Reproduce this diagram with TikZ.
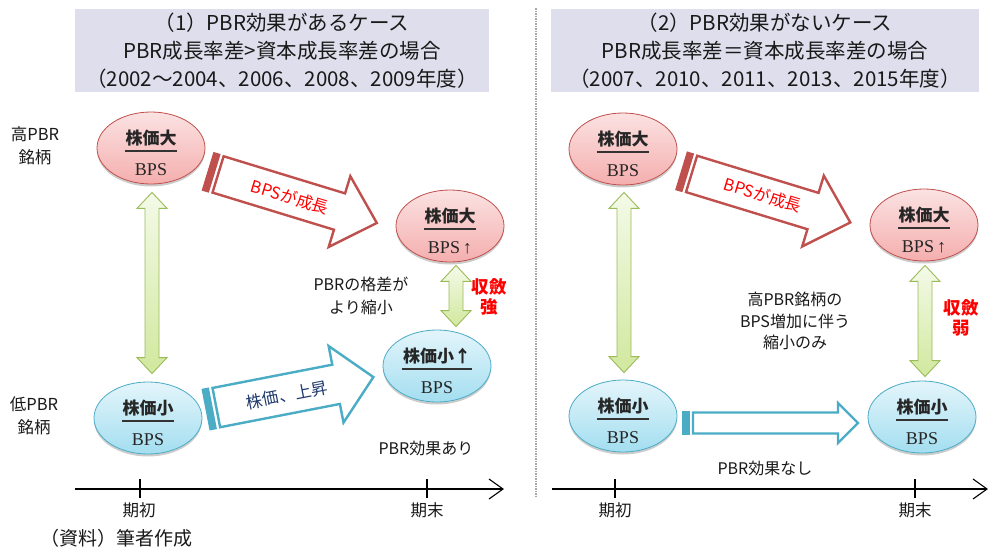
\documentclass[tikz,border=0pt]{standalone}
\usepackage{fontspec}
\setmainfont{Liberation Serif}
\newfontfamily\jp{Noto Sans CJK JP}
\usetikzlibrary{shapes.geometric,shadows,calc}
\definecolor{titlebg}{HTML}{DEDEEC}
\definecolor{redline}{HTML}{C0504D}
\definecolor{pinktop}{HTML}{FBE2E2}
\definecolor{pinkbot}{HTML}{F5AEAE}
\definecolor{blueline}{HTML}{4BACC6}
\definecolor{bluetop}{HTML}{E4F5FB}
\definecolor{bluebot}{HTML}{A3DEF0}
\definecolor{greenline}{HTML}{9BBB59}
\definecolor{greentop}{HTML}{F4FAE8}
\definecolor{greenbot}{HTML}{D1E89E}
\definecolor{navytext}{HTML}{1F3A6E}
\definecolor{divgray}{HTML}{A6A6A6}
\newcommand\fsz[2]{\fontsize{#1}{#2}\selectfont}
\newcommand\ellnode[5]{%
  \node[#3] (#1) at (#2) {};
  \node[numtxt, anchor=base] (#1n) at ($(#1.center)+(0,-4)$) {#4};
  \draw[fracrule] let \p1=(#1n.west), \p2=(#1n.east), \p3=(#1.center) in (\x1,\y3-3pt) -- (\x2,\y3-3pt);
  \node[dentxt, anchor=base] (#1d) at ($(#1.center)+(0,27)$) {#5};
}
\newcommand\blockarr[7]{%
  \begin{scope}[shift={#1}, rotate=#2]
    \fill[#7] (-1,{-#4-1.2}) rectangle (6.5,{#4+1.2});
    \draw[#7, line width=2.4pt, fill=white] (10,-#4) -- ({#3-#6},-#4) -- ({#3-#6},-#5) -- (#3,0) -- ({#3-#6},#5) -- ({#3-#6},#4) -- (10,#4) -- cycle;
  \end{scope}
}
\newcommand\greendbl[4]{%
  \draw[greenarr] let \p1=($(#1.south)+(#4,#3)$), \p2=($(#2.north)+(#4,-#3)$) in
    (\x1,\y1) -- (\x1+15pt,\y1-16pt) -- (\x1+7pt,\y1-16pt) -- (\x1+7pt,\y2+16pt) -- (\x1+15pt,\y2+16pt) -- (\x1,\y2)
    -- (\x1-15pt,\y2+16pt) -- (\x1-7pt,\y2+16pt) -- (\x1-7pt,\y1-16pt) -- (\x1-15pt,\y1-16pt) -- cycle;
}
\begin{document}
\begin{tikzpicture}[x=1pt,y=-1pt,
  titlebox/.style={fill=titlebg, inner sep=0pt, align=center, font=\jp\fsz{20.5}{28}, text=black!90},
  ellbase/.style={ellipse, minimum width=108pt, minimum height=72pt, inner sep=0pt, line width=0.8pt,
     drop shadow={shadow xshift=0pt, shadow yshift=-2.5pt, opacity=0.2, fill=black}},
  pinkell/.style={ellbase, draw=redline, top color=pinktop, bottom color=pinkbot},
  blueell/.style={ellbase, draw=blueline, top color=bluetop, bottom color=bluebot},
  numtxt/.style={inner sep=0.5pt, font=\jp\bfseries\fsz{17}{18}, text=black!85},
  dentxt/.style={inner sep=0pt, font=\fsz{18}{20}, text=black!85},
  fracrule/.style={line width=1.3pt, draw=black!80},
  greenarr/.style={draw=greenline, line width=0.9pt, top color=greentop, bottom color=greenbot},
  lbl/.style={inner sep=0pt, align=center, font=\jp\fsz{16}{23}, text=black!90},
  redlbl/.style={inner sep=0pt, align=center, font=\jp\bfseries\fsz{17.5}{20}, text=red},
  arrtxt/.style={inner sep=0pt, font=\jp\fsz{16.5}{18}},
  axisline/.style={line width=1.6pt, draw=black},
  chev/.style={line width=1.1pt, draw=black},
  divider/.style={draw=divgray, line width=1.5pt, dash pattern=on 1.5pt off 1pt}]
\useasboundingbox (0,0) rectangle (989,547);
\fill[white] (0,0) rectangle (989,547);

% titles
\node[titlebox, minimum width=414pt, minimum height=83pt] (t1) at (282,50.5)
  {（1）PBR効果があるケース\\PBR成長率差>資本成長率差の場合\\（2002～2004、2006、2008、2009年度）};
\node[titlebox, minimum width=428pt, minimum height=83pt] (t2) at (765,50.5)
  {（2）PBR効果がないケース\\PBR成長率差＝資本成長率差の場合\\（2007、2010、2011、2013、2015年度）};

% divider
\coordinate (dvA) at (536,8);
\coordinate (dvB) at (536,497);
\draw[divider] (dvA) -- (dvB);

% side labels
\node[lbl, font=\jp\fsz{16.5}{23}] (hiLbl) at (35,146) {高PBR\\銘柄};
\node[lbl, font=\jp\fsz{16.5}{23}] (loLbl) at (34,416) {低PBR\\銘柄};

% block arrows (drawn before ellipses)
\blockarr{(208.5,171.5)}{-17}{176}{19}{37}{39}{redline}
\blockarr{(682,171)}{-17}{176}{19}{37}{39}{redline}
\blockarr{(206.5,409.5)}{11}{170}{20}{39}{38}{blueline}
\blockarr{(683,423)}{0}{175}{10.5}{20}{20}{blueline}
\node[arrtxt, rotate=-17, text=red] (bpsA) at (290,197) {BPSが成長};
\node[arrtxt, rotate=-17, text=red] (bpsB) at (763,195) {BPSが成長};
\node[arrtxt, rotate=11, text=navytext] (kabuA) at (287,395) {株価、上昇};

% ellipses
\ellnode{hsA}{151,148}{pinkell}{株価大}{BPS}
\ellnode{heA}{450,226}{pinkell}{株価大}{BPS\,↑}
\ellnode{lsA}{148,418}{blueell}{株価小}{BPS}
\ellnode{leA}{437,366}{blueell}{株価小↑}{BPS}
\ellnode{hsB}{623,149}{pinkell}{株価大}{BPS}
\ellnode{heB}{924,225}{pinkell}{株価大}{BPS\,↑}
\ellnode{lsB}{623,416}{blueell}{株価小}{BPS}
\ellnode{leB}{922,417}{blueell}{株価小}{BPS}

% green double arrows
\greendbl{hsA}{lsA}{8}{1}
\greendbl{heA}{leA}{3}{6}
\greendbl{hsB}{lsB}{7}{1}
\greendbl{heB}{leB}{4}{1}

% texts
\node[lbl] (gapA) at (361,296) {PBRの格差が\\より縮小};
\node[redlbl] (convA) at (489,297) {収斂\\強};
\node[lbl] (effA) at (426,448) {PBR効果あり};
\node[lbl, font=\jp\fsz{16}{21.5}] (onlyB) at (795,321) {高PBR銘柄の\\BPS増加に伴う\\縮小のみ};
\node[redlbl] (convB) at (961,318) {収斂\\弱};
\node[lbl] (effB) at (765,468) {PBR効果なし};

% axes
\coordinate (axAs) at (75,489);
\coordinate (axAe) at (503,489);
\coordinate (axBs) at (552,489);
\coordinate (axBe) at (987,489);
\draw[axisline] (axAs) -- (axAe);
\draw[chev] ($(axAe)+(-14,-10)$) -- (axAe) -- ($(axAe)+(-14,10)$);
\draw[axisline] (axBs) -- (axBe);
\draw[chev] ($(axBe)+(-14,-10)$) -- (axBe) -- ($(axBe)+(-14,10)$);
\foreach \tx/\nm in {140/tA1, 427/tA2, 615/tB1, 915/tB2}{
  \coordinate (\nm) at (\tx,489);
  \draw[axisline] ($(\nm)+(0,-10)$) -- ($(\nm)+(0,9)$);
}
\node[lbl, font=\jp\fsz{16.5}{20}] (kA1) at (139,510) {期初};
\node[lbl, font=\jp\fsz{16.5}{20}] (kA2) at (427,510) {期末};
\node[lbl, font=\jp\fsz{16.5}{20}] (kB1) at (615,510) {期初};
\node[lbl, font=\jp\fsz{16.5}{20}] (kB2) at (915,510) {期末};

\node[lbl, font=\jp\fsz{19}{22}] (src) at (117,538) {（資料）筆者作成};
\end{tikzpicture}
\end{document}
